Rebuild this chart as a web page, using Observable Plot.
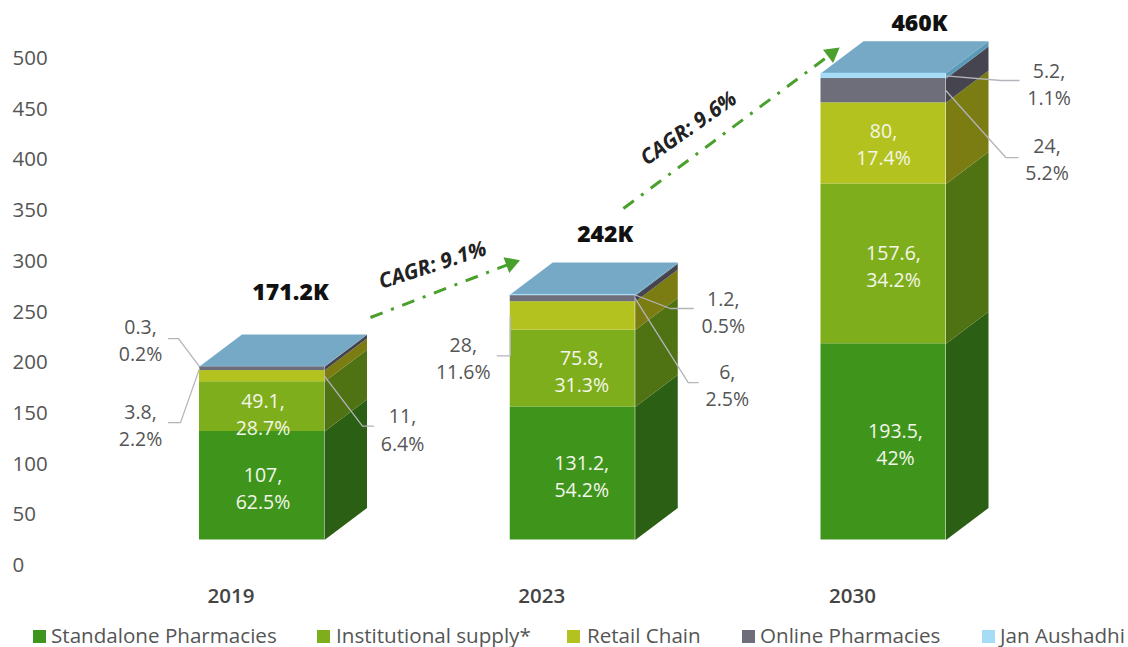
<!DOCTYPE html>
<html>
<head>
<meta charset="utf-8">
<script src="https://cdn.jsdelivr.net/npm/d3@7"></script>
<script src="https://cdn.jsdelivr.net/npm/@observablehq/plot@0.6"></script>
<style>
  html, body { margin: 0; padding: 0; background: #fff; overflow: hidden; }
  #chart svg { display: block; }
  #legend { position: relative; height: 25px; font: 20.6px "Open Sans", sans-serif; color: #555; }
  #legend span { position: absolute; top: 1px; line-height: 24px; white-space: nowrap; }
  #legend i { position: absolute; top: 8px; width: 13px; height: 13px; }
</style>
</head>
<body>
<div id="chart"></div>
<div id="legend"></div>
<script>
// ---- data ----
const years = ["2019", "2023", "2030"];
const series = ["Standalone Pharmacies", "Institutional supply*", "Retail Chain", "Online Pharmacies", "Jan Aushadhi"];
const values2019 = [107, 49.1, 11, 3.8, 0.3];
const values2023 = [131.2, 75.8, 28, 6, 1.2];
const values2030 = [193.5, 157.6, 80, 24, 5.2];
const shares2019 = ["62.5%", "28.7%", "6.4%", "2.2%", "0.2%"];
const shares2023 = ["54.2%", "31.3%", "11.6%", "2.5%", "0.5%"];
const shares2030 = ["42%", "34.2%", "17.4%", "5.2%", "1.1%"];
const totals = ["171.2K", "242K", "460K"];
const growth = ["CAGR: 9.1%", "CAGR: 9.6%"];

// ---- styling ----
const frontColors = ["#3f951c", "#7fae1c", "#b4c21f", "#6e6e7a", "#a6dcf5"];
const sideColors = ["#2a5f14", "#4f7213", "#7b7d12", "#46454f", "#5a9ab8"];
const topColor = "#76a9c6";
const legendLeft = [33, 317, 567, 742, 982];
const legendTextLeft = [51, 336, 587, 760, 1000];

// ---- geometry helpers (pixels to data units) ----
const pxX = 310.75, pxY = 1.014;
const ux = p => p / pxX, uy = p => -p / pxY;
const halfW = ux(62.5), depthX = ux(42.5), depthY = 32 / pxY;
const lift = -25.5;

const allValues = [values2019, values2023, values2030];
const allShares = [shares2019, shares2023, shares2030];

const fronts = [], sides = [], tops = [];
allValues.forEach((vals, b) => {
  const ends = Array.from(d3.cumsum(vals));
  vals.forEach((v, s) => {
    const y0 = ends[s] - v, y1 = ends[s];
    fronts.push({b, s, series: series[s], x1: b - halfW, x2: b + halfW, y0, y1});
    const xr = b + halfW, id = b + "-" + s;
    [[xr, y0], [xr + depthX, y0 + depthY], [xr + depthX, y1 + depthY], [xr, y1]]
      .forEach(([x, y]) => sides.push({id, x, y, color: sideColors[s]}));
  });
  const t = ends[ends.length - 1], xl = b - halfW, xr = b + halfW;
  [[xl, t], [xr, t], [xr + depthX, t + depthY], [xl + depthX, t + depthY]]
    .forEach(([x, y]) => tops.push({id: b, x, y}));
});

const mid = (b, s) => { const e = Array.from(d3.cumsum(allValues[b])); return e[s] - allValues[b][s] / 2; };
const twoLine = (b, s) => allValues[b][s] + ",\n" + allShares[b][s];

// labels inside the bars: [bar, series, nudge x px, nudge y px]
const insideSpec = [[0,0,1,1],[0,1,1,6],[1,0,9,1],[1,1,9,1],[2,0,12,1],[2,1,10,1],[2,2,0,-1]];
const inside = insideSpec.map(([b, s, nx, ny]) => ({
  x: b + ux(nx), y: mid(b, s) + uy(ny), text: twoLine(b, s)
}));

// callouts: [bar, series, side, elbow dx, elbow dy, end dx, end dy, text dx, text dy]
const calloutSpec = [
  [0,4,-1,-21,-28,-31,-28,-59,-28],
  [0,3,-1,-19, 54,-31, 54,-59, 55],
  [0,2, 1, 38, 50, 49, 50, 78, 52],
  [1,4, 1, 35,13.5,58,13.5,88,15.5],
  [1,3, 1, 53, 84, 63, 84, 92, 85],
  [1,2,-1,  0, 40,-13, 40,-47, 41],
  [2,4, 1, 55,4.6, 73,4.6,103,  7],
  [2,3, 1, 60, 67, 72, 67,101, 67]
];
const leaders = [], callText = [];
calloutSpec.forEach(([b, s, side, ex, ey, nx, ny, tx, ty], i) => {
  const x = b + side * halfW, y = mid(b, s);
  [[0,0],[ex,ey],[nx,ny]].forEach(([dx, dy]) => leaders.push({id: i, x: x + ux(dx), y: y + uy(dy)}));
  callText.push({x: x + ux(tx), y: y + uy(ty), text: twoLine(b, s)});
});

// totals above the bars, nudged in pixels from the back edge of the top face
const totalNudge = [[28.5, 42], [32.5, 28], [36, 18]];
const totalLabels = totals.map((text, b) => {
  const t = d3.sum(allValues[b]) + depthY;
  return {x: b + ux(totalNudge[b][0]), y: t - uy(totalNudge[b][1]), text};
});

// growth arrows in axis units
const arrows = [
  {x1: 0.349, y1: 244.6, x2: 0.801, y2: 297.8, rot: 70},
  {x1: 1.163, y1: 352, x2: 1.834, y2: 505, rot: 53}
];
const growthLabels = [
  {x: 0.549, y: 296, text: growth[0], rot: -18},
  {x: 1.373, y: 431, text: growth[1], rot: -35}
];

const yTicks = d3.range(0, 501, 50);

const chart = Plot.plot({
  width: 1128,
  height: 622,
  marginLeft: 12,
  marginTop: 58,
  marginBottom: 57,
  marginRight: 0,
  style: {fontFamily: "'Open Sans', sans-serif", background: "white", overflow: "visible"},
  x: {type: "linear", domain: [0, 2], range: [261.5, 883]},
  y: {domain: [0, 500], range: [565, 58]},
  color: {domain: series, range: frontColors},
  marks: [
    Plot.axisY({ticks: yTicks, tickSize: 0, tickPadding: 0, textAnchor: "start", label: null, fontSize: 20.5, fill: "#555"}),
    Plot.axisX({ticks: [0, 1, 2], tickFormat: i => years[i], tickSize: 0, tickPadding: 23, dx: -31, label: null, fontSize: 20.5, fontWeight: 600, fill: "#444"}),
    Plot.line(sides, {x: "x", y: "y", z: "id", fill: {value: "color", scale: null}, stroke: "none", dy: lift}),
    Plot.line(tops, {x: "x", y: "y", z: "id", fill: topColor, stroke: "none", dy: lift}),
    Plot.rect(fronts, {x1: "x1", x2: "x2", y1: "y0", y2: "y1", fill: "series", dy: lift}),
    Plot.line(leaders, {x: "x", y: "y", z: "id", stroke: "#b4b4bc", strokeWidth: 1.3, dy: lift}),
    Plot.text(inside, {x: "x", y: "y", text: "text", fill: "#f3f6ea", fontSize: 19.5, lineHeight: 1.4, dy: lift}),
    Plot.text(callText, {x: "x", y: "y", text: "text", fill: "#555", fontSize: 19.5, lineHeight: 1.4, dy: lift}),
    Plot.text(totalLabels, {x: "x", y: "y", text: "text", fill: "#111", fontSize: 23, fontWeight: 800, dy: lift}),
    Plot.link(arrows, {x1: "x1", y1: "y1", x2: "x2", y2: "y2", stroke: "#4aa02c", strokeWidth: 3, strokeDasharray: "13 9 3 9"}),
    Plot.dot(arrows, {x: "x2", y: "y2", symbol: "triangle2", r: 8, rotate: "rot", fill: "#4aa02c", stroke: "none"}),
    Plot.text(growthLabels, {x: "x", y: "y", text: "text", rotate: "rot", fill: "#222", fontSize: 21, fontWeight: 700, fontStyle: "italic"})
  ]
});
document.getElementById("chart").append(chart);

const legend = document.getElementById("legend");
series.forEach((name, i) => {
  const sw = document.createElement("i");
  sw.style.left = legendLeft[i] + "px";
  sw.style.background = frontColors[i];
  const label = document.createElement("span");
  label.style.left = legendTextLeft[i] + "px";
  label.textContent = name;
  legend.append(sw, label);
});
</script>
</body>
</html>
